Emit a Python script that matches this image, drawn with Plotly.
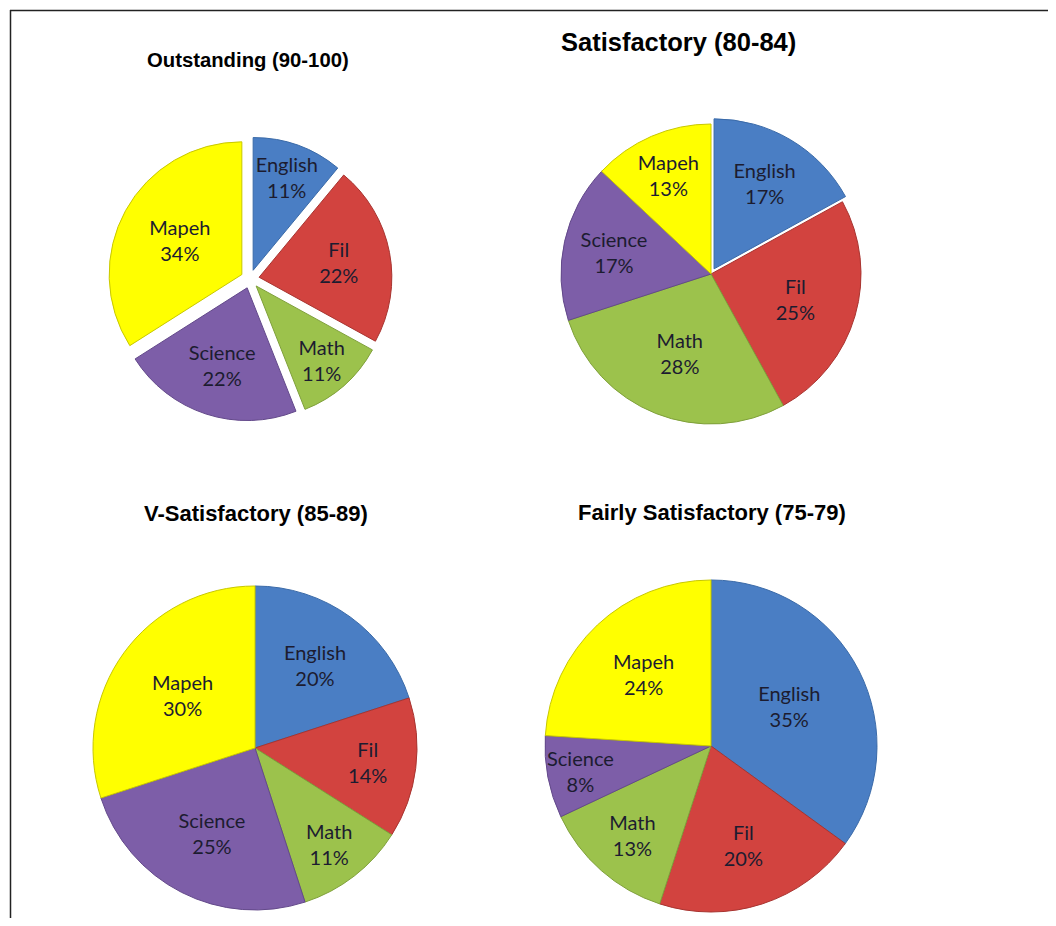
import plotly.graph_objects as go

subjects = ["English", "Fil", "Math", "Science", "Mapeh"]
outstanding = [11, 22, 11, 22, 34]
satisfactory = [17, 25, 28, 17, 13]
v_satisfactory = [20, 14, 11, 25, 30]
fairly_satisfactory = [35, 20, 13, 8, 24]
titles = ["Outstanding (90-100)", "Satisfactory (80-84)",
          "V-Satisfactory (85-89)", "Fairly Satisfactory (75-79)"]

colors = ["#4A7EC4", "#D2433F", "#9CC24C", "#7D5EA8", "#FFFF00"]
edge = ["#3A6AA8", "#A83430", "#7FA03A", "#63498A", "#C8C800"]

# page has 8px body margin; figure drawn inside
OFF = 8
W, H = 1040, 910

def fx(x):
    return (x - OFF) / W

def fy(y):
    return 1 - (y - OFF) / H

def dom(cx, cy, R):
    return dict(x=[fx(cx - R), fx(cx + R)], y=[fy(cy + R), fy(cy - R)])

fig = go.Figure()

pies = [
    (outstanding, dom(250, 279, 142), [0.07] * 5),
    (satisfactory, dom(711, 274, 156), [0.04, 0, 0, 0, 0]),
    (v_satisfactory, dom(255, 748, 162), [0] * 5),
    (fairly_satisfactory, dom(711, 746, 166), [0] * 5),
]

for vals, d, pull in pies:
    fig.add_trace(go.Pie(
        labels=subjects, values=vals, domain=d, pull=pull,
        sort=False, direction="clockwise", rotation=0,
        marker=dict(colors=colors, line=dict(color=edge, width=1)),
        texttemplate="%{label}<br>%{percent:.0%}",
        textposition="inside", insidetextorientation="horizontal",
        insidetextfont=dict(family="Lato, Open Sans, sans-serif", size=20, color="#1c1c30"),
        hoverinfo="label+percent", showlegend=False,
    ))

title_pos = [(248, 60, 20.3), (678, 42, 25.5), (256, 513, 22), (712, 512, 22)]
for t, (x, y, s) in zip(titles, title_pos):
    fig.add_annotation(text="<b>%s</b>" % t, x=fx(x), y=fy(y), xref="paper", yref="paper",
                       showarrow=False, xanchor="center", yanchor="middle",
                       font=dict(family="Liberation Sans, Arial, sans-serif", size=s, color="#000000"))

# frame lines (top and left)
fig.add_shape(type="line", xref="paper", yref="paper", x0=fx(10), x1=1.0, y0=fy(10.5), y1=fy(10.5),
              line=dict(color="#222222", width=1.5))
fig.add_shape(type="line", xref="paper", yref="paper", x0=fx(10.5), x1=fx(10.5), y0=0, y1=fy(10),
              line=dict(color="#222222", width=1.5))

fig.update_layout(width=W, height=H, margin=dict(l=0, r=0, t=0, b=0),
                  paper_bgcolor="white", plot_bgcolor="white",
                  uniformtext=dict(minsize=20, mode="show"))

fig.write_html("out.html")
